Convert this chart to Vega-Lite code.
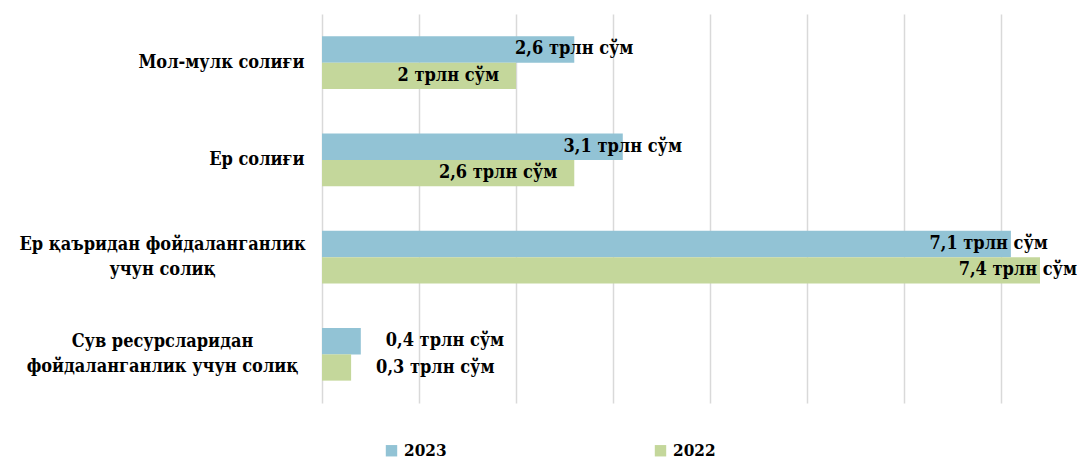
{
  "$schema": "https://vega.github.io/schema/vega-lite/v6.json",
  "width": 718,
  "height": 389,
  "autosize": "none",
  "padding": {"left": 322, "top": 14, "right": 43, "bottom": 59},
  "background": "white",
  "config": {"view": {"stroke": null}, "font": "DejaVu Serif Condensed"},
  "data": {"values": [
    {"tax": "Мол-мулк солиғи", "year": "2023", "value": 2.6},
    {"tax": "Мол-мулк солиғи", "year": "2022", "value": 2.0},
    {"tax": "Ер солиғи", "year": "2023", "value": 3.1},
    {"tax": "Ер солиғи", "year": "2022", "value": 2.6},
    {"tax": "Ер қаъридан фойдаланганлик учун солиқ", "year": "2023", "value": 7.1},
    {"tax": "Ер қаъридан фойдаланганлик учун солиқ", "year": "2022", "value": 7.4},
    {"tax": "Сув ресурсларидан фойдаланганлик учун солиқ", "year": "2023", "value": 0.4},
    {"tax": "Сув ресурсларидан фойдаланганлик учун солиқ", "year": "2022", "value": 0.3}
  ]},
  "transform": [
    {"calculate": "replace(format(datum.value, '.1~f'), '.', ',') + ' трлн сўм'", "as": "label"}
  ],
  "encoding": {
    "y": {
      "field": "tax", "type": "nominal", "sort": null,
      "scale": {"paddingInner": 0.46, "paddingOuter": 0.23},
      "axis": {
        "title": null, "domain": false, "ticks": false, "grid": false,
        "labelFont": "DejaVu Serif Condensed", "labelFontWeight": "bold", "labelFontSize": 18,
        "labelColor": "black", "labelLimit": 400, "labelLineHeight": 25,
        "labelAlign": {"condition": {"test": "indexof(datum.value, 'фойдаланганлик') >= 0", "value": "center"}, "value": "right"},
        "labelPadding": {"condition": {"test": "indexof(datum.value, 'фойдаланганлик') >= 0", "value": 160}, "value": 18},
        "labelOffset": {"condition": {"test": "indexof(datum.value, 'фойдаланганлик') >= 0", "value": -12.5}, "value": 0},
        "labelExpr": "datum.value == 'Ер қаъридан фойдаланганлик учун солиқ' ? ['Ер қаъридан фойдаланганлик', 'учун солиқ'] : datum.value == 'Сув ресурсларидан фойдаланганлик учун солиқ' ? ['Сув ресурсларидан', 'фойдаланганлик учун солиқ'] : datum.value"
      }
    },
    "yOffset": {"field": "year", "type": "nominal", "sort": ["2023", "2022"], "scale": {"paddingInner": 0}},
    "x": {
      "field": "value", "type": "quantitative",
      "scale": {"domain": [0, 7.4], "nice": false, "zero": true},
      "axis": {
        "title": null, "labels": false, "ticks": false, "domain": false,
        "grid": true, "gridColor": "#d9d9d9", "gridWidth": 1.5,
        "values": [0, 1, 2, 3, 4, 5, 6, 7]
      }
    }
  },
  "layer": [
    {
      "mark": {"type": "bar"},
      "encoding": {
        "color": {
          "field": "year", "type": "nominal",
          "scale": {"domain": ["2023", "2022"], "range": ["#92C3D5", "#C4D79B"]},
          "legend": {
            "title": null, "orient": "none", "direction": "horizontal",
            "legendX": 61, "legendY": 428,
            "symbolType": "square", "symbolSize": 130, "symbolStrokeWidth": 0,
            "labelFont": "DejaVu Serif Condensed", "labelFontWeight": "bold", "labelFontSize": 17,
            "labelColor": "black", "labelOffset": 4, "columnPadding": 205
          }
        }
      }
    },
    {
      "transform": [{"filter": "datum.value < 1"}],
      "mark": {"type": "text", "align": "left", "baseline": "middle", "dx": 25, "font": "DejaVu Serif Condensed", "fontWeight": "bold", "fontSize": 18, "color": "black"},
      "encoding": {"text": {"field": "label"}}
    },
    {
      "transform": [{"filter": "datum.year == '2023' && datum.value >= 1 && datum.value < 5"}],
      "mark": {"type": "text", "align": "center", "baseline": "middle", "dx": 0, "font": "DejaVu Serif Condensed", "fontWeight": "bold", "fontSize": 18, "color": "black"},
      "encoding": {"text": {"field": "label"}}
    },
    {
      "transform": [{"filter": "datum.year == '2022' && datum.value >= 1 && datum.value < 5"}],
      "mark": {"type": "text", "align": "right", "baseline": "middle", "dx": -17, "font": "DejaVu Serif Condensed", "fontWeight": "bold", "fontSize": 18, "color": "black"},
      "encoding": {"text": {"field": "label"}}
    },
    {
      "transform": [{"filter": "datum.value >= 5"}],
      "mark": {"type": "text", "align": "right", "baseline": "middle", "dx": 37, "font": "DejaVu Serif Condensed", "fontWeight": "bold", "fontSize": 18, "color": "black"},
      "encoding": {"text": {"field": "label"}}
    }
  ]
}
